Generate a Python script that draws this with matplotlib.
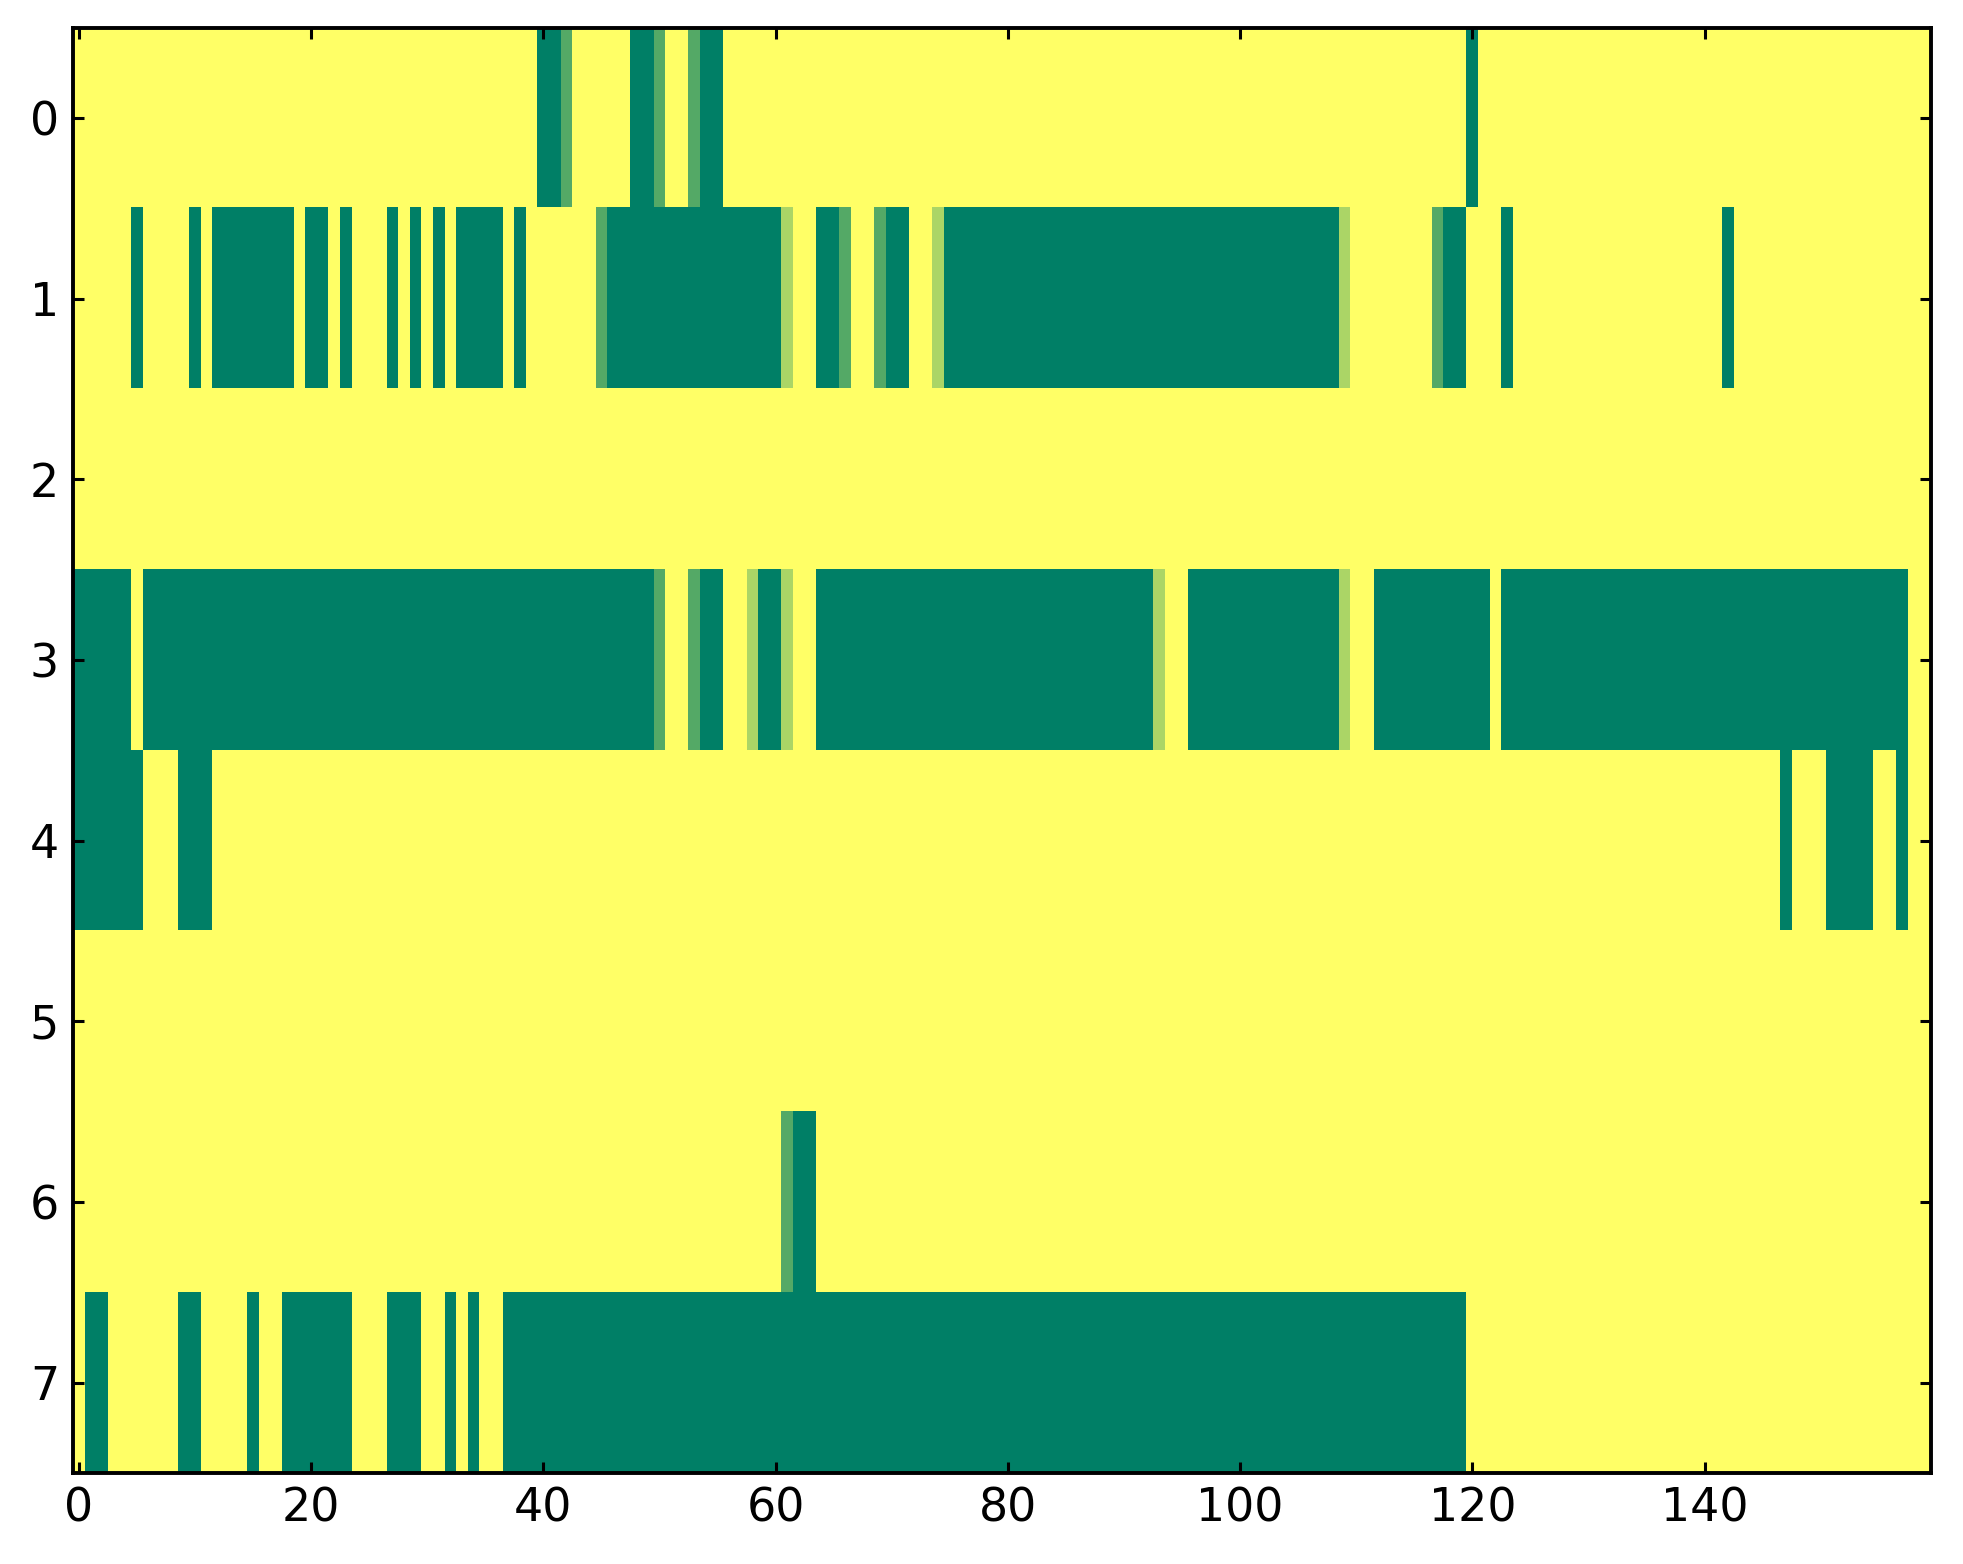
import numpy as np
import matplotlib
matplotlib.use("Agg")
import matplotlib.pyplot as plt

n_cols = 160
n_rows = 8

# runs of fully "on" cells (start, end inclusive) for each row
row0_on = [(40, 41), (48, 49), (54, 55), (120, 120)]
row1_on = [(5, 5), (10, 10), (12, 18), (20, 21), (23, 23), (27, 27), (29, 29),
           (31, 31), (33, 36), (38, 38), (46, 60), (64, 65), (70, 71),
           (75, 108), (118, 119), (123, 123), (142, 142)]
row2_on = []
row3_on = [(0, 4), (6, 49), (54, 55), (59, 60), (64, 92), (96, 108),
           (112, 121), (123, 157)]
row4_on = [(0, 5), (9, 11), (147, 147), (151, 154), (157, 157)]
row5_on = []
row6_on = [(62, 63)]
row7_on = [(1, 2), (9, 10), (15, 15), (18, 23), (27, 29), (32, 32), (34, 34),
           (37, 119)]

# partial cells: (row, col, value)
partial = [(0, 42, 0.67), (0, 50, 0.67), (0, 53, 0.67),
           (1, 45, 0.67), (1, 61, 0.33), (1, 66, 0.67), (1, 69, 0.67),
           (1, 74, 0.33), (1, 109, 0.33), (1, 117, 0.67),
           (3, 50, 0.67), (3, 53, 0.67), (3, 58, 0.33), (3, 61, 0.33),
           (3, 93, 0.33), (3, 109, 0.33),
           (6, 61, 0.67)]

rows_on = [row0_on, row1_on, row2_on, row3_on, row4_on, row5_on, row6_on, row7_on]

data = np.zeros((n_rows, n_cols))
for r, runs in enumerate(rows_on):
    for a, b in runs:
        data[r, a:b + 1] = 1.0
for r, c, v in partial:
    data[r, c] = v

fig = plt.figure(figsize=(1963 / 200, 1564 / 200), dpi=200)
ax = fig.add_axes([73 / 1963, 1 - 1473 / 1564, (1931 - 73) / 1963, (1473 - 27.6) / 1564])

ax.imshow(data, cmap='summer_r', vmin=0, vmax=1, aspect='auto',
          interpolation='nearest')

ax.set_xticks(range(0, 141, 20))
ax.set_yticks(range(0, 8))
ax.set_xlim(-0.5, n_cols - 0.5)
ax.set_ylim(7.5, -0.5)
ax.tick_params(direction='in', top=True, right=True, length=4, width=1.1,
               labelsize=16.5, pad=5)
for s in ax.spines.values():
    s.set_linewidth(1.4)

fig.savefig("out.png", dpi=200)
